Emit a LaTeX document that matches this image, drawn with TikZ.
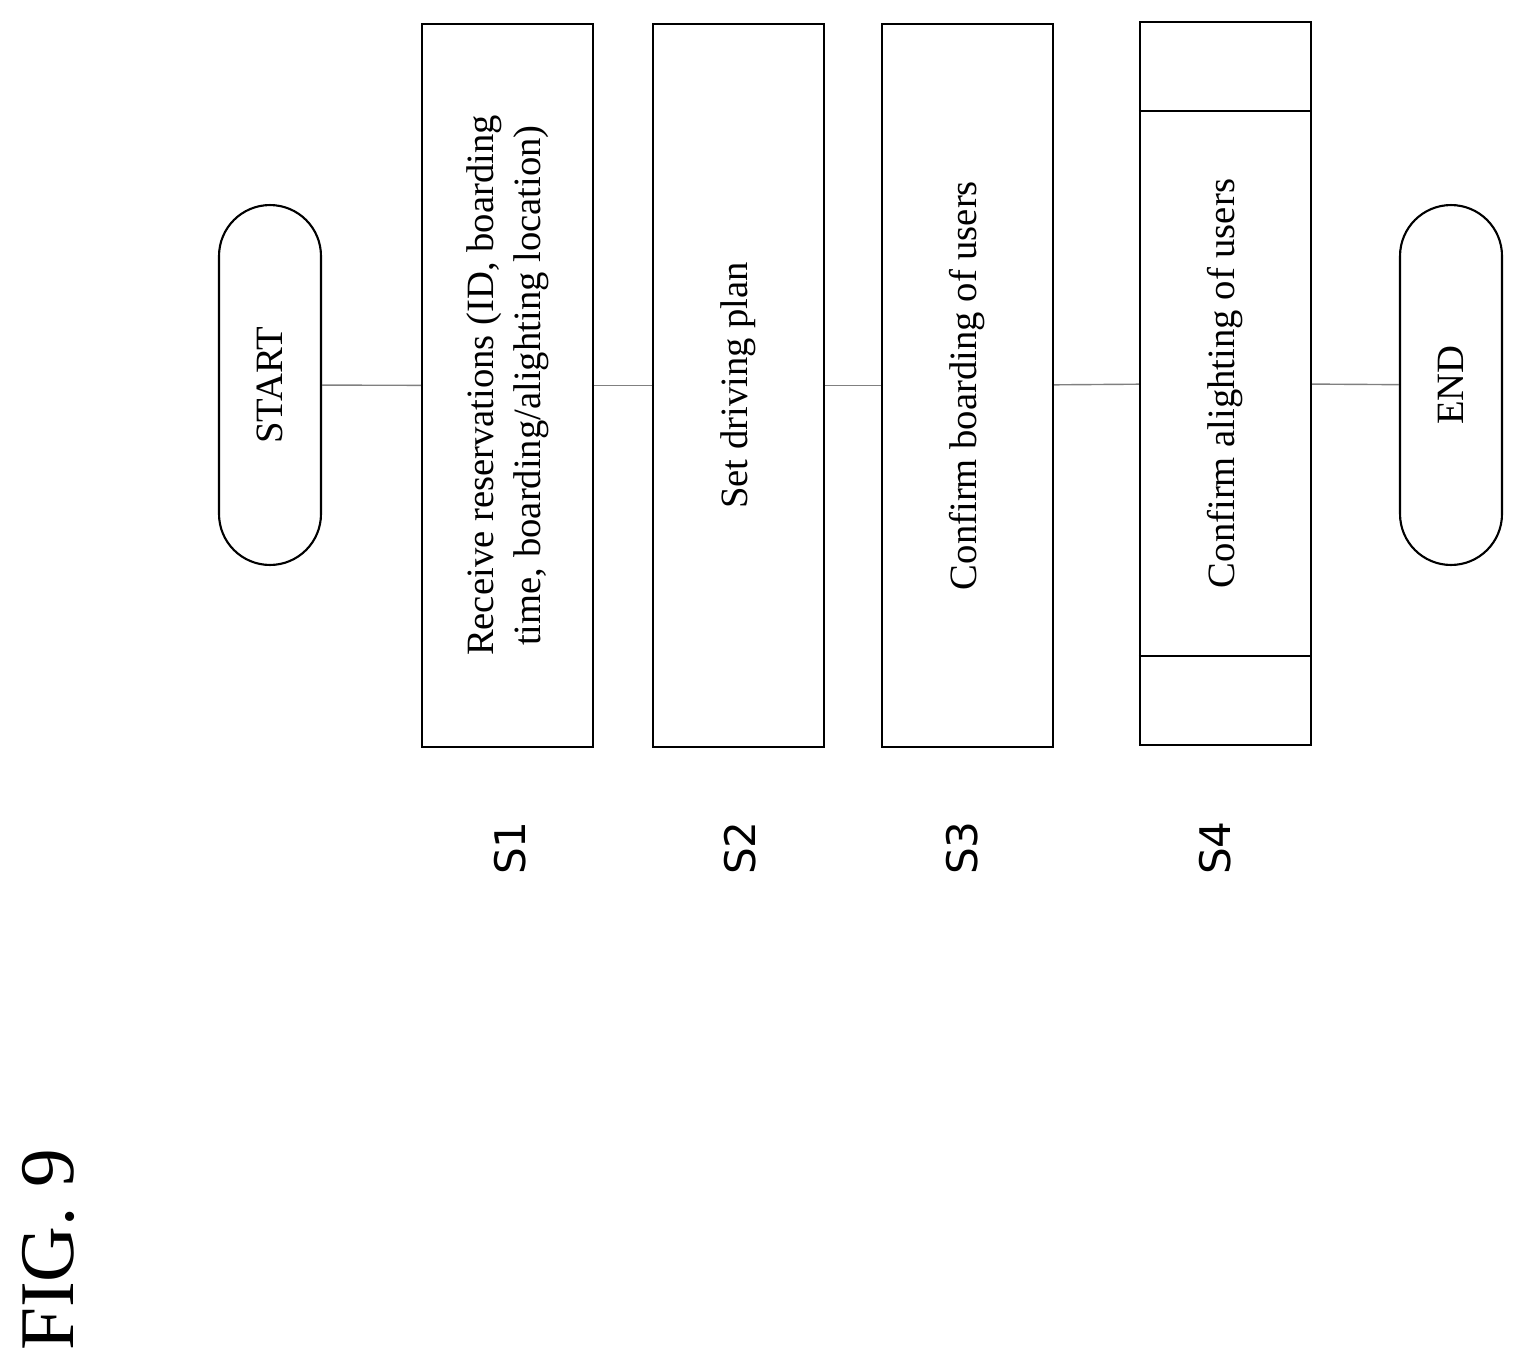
\documentclass[tikz,border=0pt]{standalone}
\usepackage{fontspec}
\setmainfont{Liberation Serif}
\newfontfamily\labelfont{DejaVu Sans}
\usetikzlibrary{positioning}
\tikzset{
  stepbox/.style={draw, line width=1.2pt, rotate=90, minimum width=14.46cm,
    minimum height=3.42cm, align=center, font=\fontsize{22}{27}\selectfont},
  terminal/.style={draw, line width=1.2pt, rotate=90, rounded corners=1.02cm,
    minimum width=7.2cm, minimum height=2.04cm, font=\fontsize{22}{27}\selectfont},
  steplabel/.style={rotate=90, font=\labelfont\fontsize{24}{28}\selectfont},
  link/.style={draw, gray, line width=0.8pt}
}
\begin{document}
\begin{tikzpicture}[x=0.02cm, y=-0.02cm]
  \useasboundingbox (0,0) rectangle (1523,1356);

  % Terminals and steps
  \node[terminal] (start) at (270,385) {START};
  \node[stepbox] (s1) at (507.5,385.5) {Receive reservations (ID, boarding\\time, boarding/alighting location)};
  \node[stepbox] (s2) at (738.5,385.5) {Set driving plan};
  \node[stepbox] (s3) at (967.5,385.5) {Confirm boarding of users};
  \node[stepbox] (s4) at (1225.5,383.5) {Confirm alighting of users};
  \node[terminal] (end) at (1451,385) {END};

  % S4 side bars
  \draw[line width=1.2pt] ([yshift=-1.8cm]s4.north east) -- ([yshift=-1.8cm]s4.south east);
  \draw[line width=1.2pt] ([yshift=1.8cm]s4.north west) -- ([yshift=1.8cm]s4.south west);

  % Links
  \path[link] (start) -- (s1);
  \path[link] (s1) -- (s2);
  \path[link] (s2) -- (s3);
  \path[link] (s3) -- (s4);
  \path[link] (s4) -- (end);

  % Step labels
  \node[steplabel] (l1) at (510,848) {S1};
  \node[steplabel] (l2) at (740,848) {S2};
  \node[steplabel] (l3) at (962,848) {S3};
  \node[steplabel] (l4) at (1215,848) {S4};

  \node[rotate=90, font=\fontsize{44}{50}\selectfont] (fig) at (48,1250) {FIG. 9};
\end{tikzpicture}
\end{document}
